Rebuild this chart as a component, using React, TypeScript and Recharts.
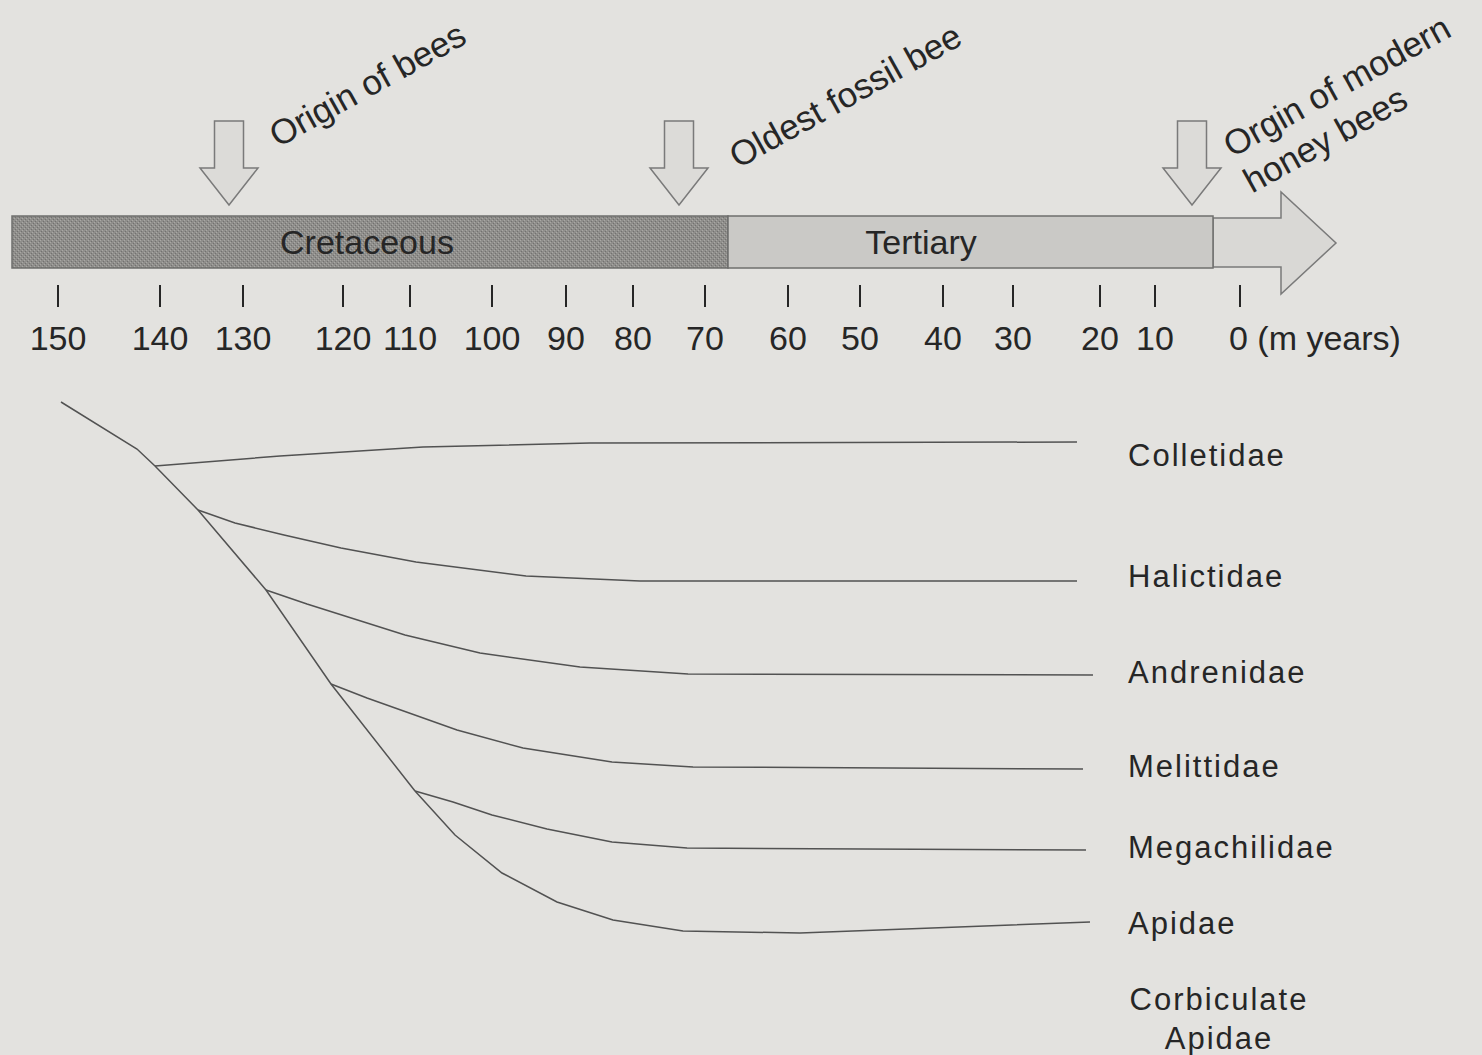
import React from 'react'
import { ComposedChart, XAxis, YAxis, Line, Scatter, ReferenceArea } from 'recharts'

// Diagram is drawn on a "layout" scale: x runs along the time bar, y runs down the tree.

// time bar ticks (hand-spaced in the original figure) and their age labels
const TICK_POS = [58, 160, 243, 343, 410, 492, 566, 633, 705, 788, 860, 943, 1013, 1100, 1155, 1240]
const TICK_LABELS = ['150', '140', '130', '120', '110', '100', '90', '80', '70', '60', '50', '40', '30', '20', '10', '0']

// geological periods on the bar
const PERIODS = ['Cretaceous', 'Tertiary']
const PERIOD_FROM = [12, 728]
const PERIOD_TO = [728, 1213]
const PERIOD_LABEL_X = [367, 921]

// events marked with arrows
const EVENTS = [['Origin of bees'], ['Oldest fossil bee'], ['Orgin of modern', 'honey bees']]
const EVENT_POS = [229, 679, 1192]
const EVENT_TEXT_X = [278, 738, 1232]
const EVENT_TEXT_Y = [148, 169, 158]

const FAMILIES = ['Colletidae', 'Halictidae', 'Andrenidae', 'Melittidae', 'Megachilidae', 'Apidae']
const FAMILY_LABEL_Y = [455, 576, 672, 766, 847, 923]

const STEM_X = [61, 137, 155, 198, 266, 331, 415]
const STEM_Y = [402, 449, 466, 510, 590, 684, 791]

const COLLETIDAE_X = [155, 280, 423, 590, 1077]
const COLLETIDAE_Y = [466, 456, 447, 443, 442]
const HALICTIDAE_X = [198, 235, 284, 341, 416, 526, 640, 1077]
const HALICTIDAE_Y = [510, 523, 535, 548, 562, 576, 581, 581]
const ANDRENIDAE_X = [266, 307, 405, 480, 580, 688, 1093]
const ANDRENIDAE_Y = [590, 604, 635, 653, 667, 674, 675]
const MELITTIDAE_X = [331, 367, 457, 523, 612, 693, 1083]
const MELITTIDAE_Y = [684, 698, 730, 748, 762, 767, 769]
const MEGACHILIDAE_X = [415, 453, 492, 547, 612, 687, 1086]
const MEGACHILIDAE_Y = [791, 802, 815, 829, 842, 848, 850]
const APIDAE_X = [415, 455, 502, 557, 613, 683, 800, 1090]
const APIDAE_Y = [791, 835, 873, 902, 920, 931, 933, 922]

const W = 1482
const H = 1055
const BG = '#e3e2df'
const INK = '#262626'
const BRANCH = '#525252'
const FONT = '"Liberation Sans", Arial, sans-serif'

const toPoints = (xs: number[], ys: number[]) => xs.map((x, i) => ({ x, y: ys[i] }))

const branches = [
  toPoints(STEM_X, STEM_Y),
  toPoints(COLLETIDAE_X, COLLETIDAE_Y),
  toPoints(HALICTIDAE_X, HALICTIDAE_Y),
  toPoints(ANDRENIDAE_X, ANDRENIDAE_Y),
  toPoints(MELITTIDAE_X, MELITTIDAE_Y),
  toPoints(MEGACHILIDAE_X, MEGACHILIDAE_Y),
  toPoints(APIDAE_X, APIDAE_Y),
]

const tickData = TICK_POS.map((x, i) => ({ x, y: 296, label: TICK_LABELS[i], last: i === TICK_POS.length - 1 }))
const familyData = FAMILIES.map((name, i) => ({ x: 1128, y: FAMILY_LABEL_Y[i], label: name }))
const eventData = EVENTS.map((lines, i) => ({ x: EVENT_TEXT_X[i], y: EVENT_TEXT_Y[i], lines }))

/* ---------- shapes ---------- */

const TickMark = (p: any) => {
  const { cx, cy, payload } = p
  return (
    <g>
      <line x1={cx} x2={cx} y1={cy - 11} y2={cy + 11} stroke={INK} strokeWidth={2} />
      {payload.last ? (
        <text x={cx - 11} y={cy + 42} dominantBaseline="central" fontFamily={FONT} fontSize={34} fill={INK}>
          {payload.label} (m years)
        </text>
      ) : (
        <text x={cx} y={cy + 42} textAnchor="middle" dominantBaseline="central" fontFamily={FONT} fontSize={34} fill={INK}>
          {payload.label}
        </text>
      )}
    </g>
  )
}

const FamilyLabel = (p: any) => (
  <text x={p.cx} y={p.cy} dominantBaseline="central" fontFamily={FONT} fontSize={31} letterSpacing={2} fill={INK}>
    {p.payload.label}
  </text>
)

const EventLabel = (p: any) => {
  const { cx, cy, payload } = p
  return (
    <text transform={`rotate(-29 ${cx} ${cy})`} fontFamily={FONT} fontSize={35} fill={INK}>
      {payload.lines.map((t: string, i: number) => (
        <tspan key={t} x={cx} y={cy + i * 41}>{t}</tspan>
      ))}
    </text>
  )
}

const PeriodBar = (fill: string, name: string, labelX: number, stipple: boolean) => (p: any) => {
  const { x, y, width, height } = p
  return (
    <g>
      {stipple && (
        <defs>
          <pattern id="stipple" width="4" height="4" patternUnits="userSpaceOnUse">
            <rect width="4" height="4" fill={fill} />
            <rect x="0" y="0" width="1" height="1" fill="#a9a8a5" />
            <rect x="2" y="2" width="1" height="1" fill="#a9a8a5" />
            <rect x="1" y="3" width="1" height="1" fill="#727170" />
            <rect x="3" y="1" width="1" height="1" fill="#727170" />
          </pattern>
        </defs>
      )}
      <rect x={x} y={y} width={width} height={height} fill={stipple ? 'url(#stipple)' : fill} stroke="#6f6f6d" strokeWidth={1.5} />
      <text x={labelX} y={y + height / 2} textAnchor="middle" dominantBaseline="central" fontFamily={FONT} fontSize={34} fill={INK}>
        {name}
      </text>
    </g>
  )
}

const DownArrow = (p: any) => {
  const { x, y, width: w, height: h } = p
  const sw = w * 0.5
  const hy = y + h * 0.56
  const pts = [
    [x + (w - sw) / 2, y], [x + (w + sw) / 2, y], [x + (w + sw) / 2, hy], [x + w, hy],
    [x + w / 2, y + h], [x, hy], [x + (w - sw) / 2, hy],
  ]
  return <polygon points={pts.map((q) => q.join(',')).join(' ')} fill="#dcdbd8" stroke="#7a7a7a" strokeWidth={1.5} />
}

const TimeArrow = (p: any) => {
  const { x, y, width: w, height: h } = p
  const hx = x + w * (68 / 123)
  const s1 = y + h * (26 / 102)
  const s2 = y + h * (75 / 102)
  const pts = [[x, s1], [hx, s1], [hx, y], [x + w, y + h / 2], [hx, y + h], [hx, s2], [x, s2]]
  return <polygon points={pts.map((q) => q.join(',')).join(' ')} fill="#d9d8d5" stroke="#7a7a7a" strokeWidth={1.5} />
}

export default function App() {
  return (
    <div style={{ position: 'absolute', left: 0, top: 0, width: W, height: H, background: BG }}>
      <ComposedChart width={W} height={H} margin={{ top: 0, right: 0, bottom: 0, left: 0 }}>
        <XAxis type="number" dataKey="x" domain={[0, W]} hide allowDataOverflow />
        <YAxis type="number" dataKey="y" domain={[0, H]} reversed hide allowDataOverflow />

        {/* time bar */}
        <ReferenceArea x1={1213} x2={1336} y1={192} y2={294} shape={TimeArrow} ifOverflow="visible" />
        {PERIODS.map((name, i) => (
          <ReferenceArea
            key={name}
            x1={PERIOD_FROM[i]}
            x2={PERIOD_TO[i]}
            y1={216}
            y2={268}
            ifOverflow="visible"
            shape={PeriodBar(i === 0 ? '#8f8e8b' : '#cac9c6', name, PERIOD_LABEL_X[i], i === 0)}
          />
        ))}

        {/* event arrows */}
        {EVENT_POS.map((x, i) => (
          <ReferenceArea key={i} x1={x - 29} x2={x + 29} y1={121} y2={205} shape={DownArrow} ifOverflow="visible" />
        ))}
        <Scatter data={eventData} shape={EventLabel} isAnimationActive={false} />

        {/* ticks */}
        <Scatter data={tickData} shape={TickMark} isAnimationActive={false} />

        {/* tree */}
        {branches.map((pts, i) => (
          <Line
            key={i}
            data={pts}
            dataKey="y"
            type="linear"
            stroke={BRANCH}
            strokeWidth={1.5}
            dot={false}
            activeDot={false}
            isAnimationActive={false}
          />
        ))}

        {/* family labels */}
        <Scatter data={familyData} shape={FamilyLabel} isAnimationActive={false} />
        <Scatter
          data={[{ x: 1219, y: 999 }]}
          isAnimationActive={false}
          shape={(p: any) => (
            <text x={p.cx} y={p.cy} textAnchor="middle" fontFamily={FONT} fontSize={31} letterSpacing={2} fill={INK}>
              <tspan x={p.cx} dy="0.35em">Corbiculate</tspan>
              <tspan x={p.cx} dy="1.25em">Apidae</tspan>
            </text>
          )}
        />
      </ComposedChart>
    </div>
  )
}
